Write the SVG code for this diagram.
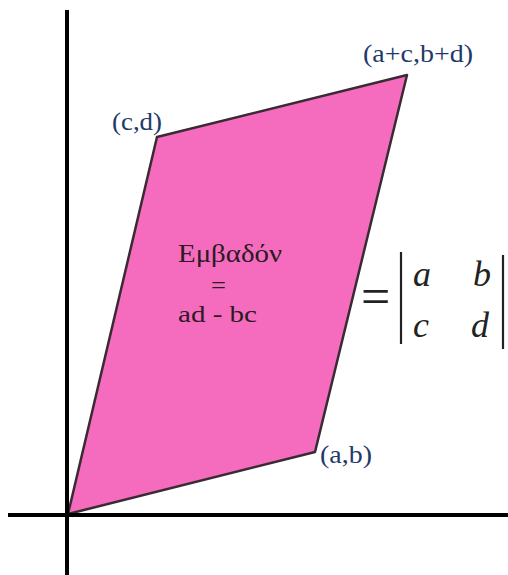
<svg xmlns="http://www.w3.org/2000/svg" width="508" height="575" viewBox="0 0 508 575">
<style>
.lbl{font-family:"Liberation Serif",serif;font-size:25px;fill:#1f3a6a}
.ctr{font-family:"Liberation Serif",serif;font-size:26px;fill:#2a1a22}
.mat{font-family:"Liberation Serif",serif;font-size:36px;font-style:italic;fill:#222}
.axis{stroke:#000;stroke-width:4}
</style>
<rect width="508" height="575" fill="#fff"/>
<g id="parallelogram">
<polygon points="68,514 315,452 407,75 157,137" fill="#f56cbe" stroke="#3a2a33" stroke-width="2.5" stroke-linejoin="round"/>
</g>
<g id="connectors">
<line class="axis" x1="67" y1="10" x2="67" y2="575"/>
<line class="axis" x1="8" y1="515" x2="508" y2="515"/>
</g>
<g id="label-apc"><text class="lbl" x="363" y="62" textLength="110" lengthAdjust="spacingAndGlyphs">(a+c,b+d)</text></g>
<g id="label-cd"><text class="lbl" x="112" y="130" textLength="50" lengthAdjust="spacingAndGlyphs">(c,d)</text></g>
<g id="label-ab"><text class="lbl" x="320" y="463" textLength="52" lengthAdjust="spacingAndGlyphs">(a,b)</text></g>
<g id="area-text">
<text class="ctr" x="178" y="262" textLength="104" lengthAdjust="spacingAndGlyphs">Εμβαδόν</text>
<text class="ctr" x="211" y="293" style="font-size:24px" textLength="15" lengthAdjust="spacingAndGlyphs">=</text>
<text class="ctr" x="178" y="322" style="font-size:24px" textLength="79" lengthAdjust="spacingAndGlyphs">ad - bc</text>
</g>
<g id="determinant">
<text x="361" y="314" style="font-family:'Liberation Serif',serif;font-size:52px;fill:#222">=</text>
<line x1="401" y1="252" x2="401" y2="344" stroke="#222" stroke-width="2.2"/>
<line x1="503" y1="255" x2="503" y2="349" stroke="#222" stroke-width="2.2"/>
<text class="mat" x="413" y="286">a</text>
<text class="mat" x="473" y="286">b</text>
<text class="mat" x="413" y="337">c</text>
<text class="mat" x="471" y="337">d</text>
</g>
</svg>
